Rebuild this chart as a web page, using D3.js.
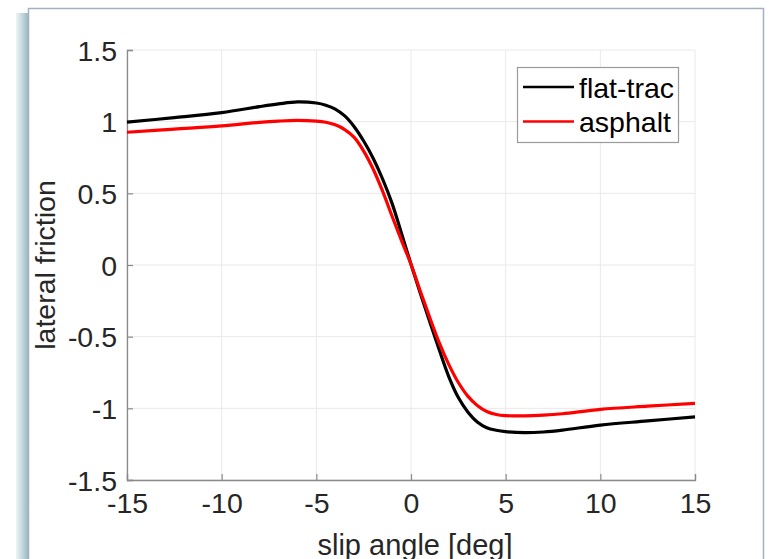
<!DOCTYPE html>
<html>
<head>
<meta charset="utf-8">
<script src="https://cdn.jsdelivr.net/npm/d3@7"></script>
<style>
  html,body{margin:0;padding:0;background:#fff;}
  svg{display:block;font-family:"Liberation Sans",Arial,sans-serif;}
</style>
</head>
<body>
<div id="chart"></div>
<script>
// slip angle samples [deg] and lateral friction for both surfaces
const slip = [-15,-12.5,-10,-8,-7,-6,-5,-4.5,-4,-3.5,-3,-2.5,-2,-1.5,-1,-0.5,0,0.5,1,1.5,2,2.5,3,3.5,4,4.5,5,6,7,8,10,12.5,15];
const flatTrac = [0.997,1.028,1.063,1.105,1.124,1.138,1.130,1.115,1.088,1.04,0.965,0.865,0.745,0.60,0.43,0.22,0.005,-0.20,-0.40,-0.595,-0.78,-0.925,-1.025,-1.095,-1.135,-1.153,-1.163,-1.170,-1.165,-1.152,-1.117,-1.088,-1.059];
const asphalt = [0.926,0.948,0.970,0.995,1.004,1.009,1.004,0.996,0.978,0.945,0.89,0.795,0.67,0.515,0.34,0.17,0.005,-0.185,-0.37,-0.545,-0.695,-0.82,-0.915,-0.98,-1.022,-1.043,-1.051,-1.053,-1.048,-1.038,-1.007,-0.985,-0.965];
const xTicks = [-15,-10,-5,0,5,10,15];
const yTicks = [-1.5,-1,-0.5,0,0.5,1,1.5];
const seriesNames = ['flat-trac','asphalt'];
const seriesColors = ['#000000','#ff0000'];

const W=769,H=559;
const svg=d3.select('#chart').append('svg').attr('width',W).attr('height',H);

// figure frame with soft shadow on the left
const defs=svg.append('defs');
const grad=defs.append('linearGradient').attr('id','shade').attr('x1','0').attr('x2','1');
grad.append('stop').attr('offset','0').attr('stop-color','#eef4f5');
grad.append('stop').attr('offset','0.6').attr('stop-color','#b9d0d5');
grad.append('stop').attr('offset','1').attr('stop-color','#93b3ba');
svg.append('rect').attr('x',16).attr('y',13).attr('width',13).attr('height',H).attr('fill','url(#shade)');
svg.append('rect').attr('x',28.5).attr('y',8.5).attr('width',735).attr('height',H+20)
  .attr('fill','#fff').attr('stroke','#a2b2c1').attr('stroke-width',1.5);

const m={l:127,r:695,t:50,b:480};
const x=d3.scaleLinear().domain([-15,15]).range([m.l,m.r]);
const y=d3.scaleLinear().domain([-1.5,1.5]).range([m.b,m.t]);

// grid
const grid=svg.append('g').attr('stroke','#e9e9e9').attr('stroke-width',1);
grid.selectAll('.gx').data(xTicks).join('line')
  .attr('x1',d=>x(d)).attr('x2',d=>x(d)).attr('y1',m.t).attr('y2',m.b);
grid.selectAll('.gy').data(yTicks).join('line')
  .attr('y1',d=>y(d)).attr('y2',d=>y(d)).attr('x1',m.l).attr('x2',m.r);

// axes (left + bottom only, ticks pointing inward)
const ax=d3.axisBottom(x).tickValues(xTicks).tickSize(-6).tickPadding(13).tickFormat(d=>String(d));
const ay=d3.axisLeft(y).tickValues(yTicks).tickSize(-6).tickPadding(10).tickFormat(d=>String(d));
const gx=svg.append('g').attr('transform',`translate(0,${m.b})`).call(ax);
const gy=svg.append('g').attr('transform',`translate(${m.l},0)`).call(ay);
[gx,gy].forEach(g=>{
  g.select('.domain').attr('stroke','#8a8a8a').attr('stroke-width',1.3);
  g.selectAll('.tick line').attr('stroke','#8a8a8a').attr('stroke-width',1.2);
  g.selectAll('.tick text').attr('fill','#262626').attr('font-size',28.5).attr('font-family','"Liberation Sans",Arial,sans-serif');
});
gx.selectAll('.tick text').attr('dy','0.71em');
gy.selectAll('.tick text').attr('dy','0.36em');

// curves
const line=d3.line().x((d,i)=>x(slip[i])).y(d=>y(d)).curve(d3.curveCatmullRom.alpha(0.5));
[flatTrac,asphalt].forEach((s,k)=>{
  svg.append('path').attr('d',line(s)).attr('fill','none')
    .attr('stroke',seriesColors[k]).attr('stroke-width',3.2).attr('stroke-linejoin','round');
});

// axis labels
svg.append('text').attr('x',(m.l+m.r)/2+4).attr('y',555).attr('text-anchor','middle')
  .attr('font-size',29).attr('fill','#262626').text('slip angle [deg]');
svg.append('text').attr('transform',`translate(55,${(m.t+m.b)/2}) rotate(-90)`).attr('text-anchor','middle')
  .attr('font-size',28.5).attr('fill','#262626').text('lateral friction');

// legend
const lg=svg.append('g');
lg.append('rect').attr('x',517.5).attr('y',67.5).attr('width',161).attr('height',75)
  .attr('fill','#fff').attr('stroke','#9a9a9a').attr('stroke-width',1.2);
seriesNames.forEach((n,i)=>{
  const yy=87+i*34.5;
  lg.append('line').attr('x1',523).attr('x2',574).attr('y1',yy).attr('y2',yy)
    .attr('stroke',seriesColors[i]).attr('stroke-width',2.5);
  lg.append('text').attr('x',579).attr('y',yy+10.5).attr('font-size',28.5).attr('fill','#000').text(n);
});
</script>
</body>
</html>
